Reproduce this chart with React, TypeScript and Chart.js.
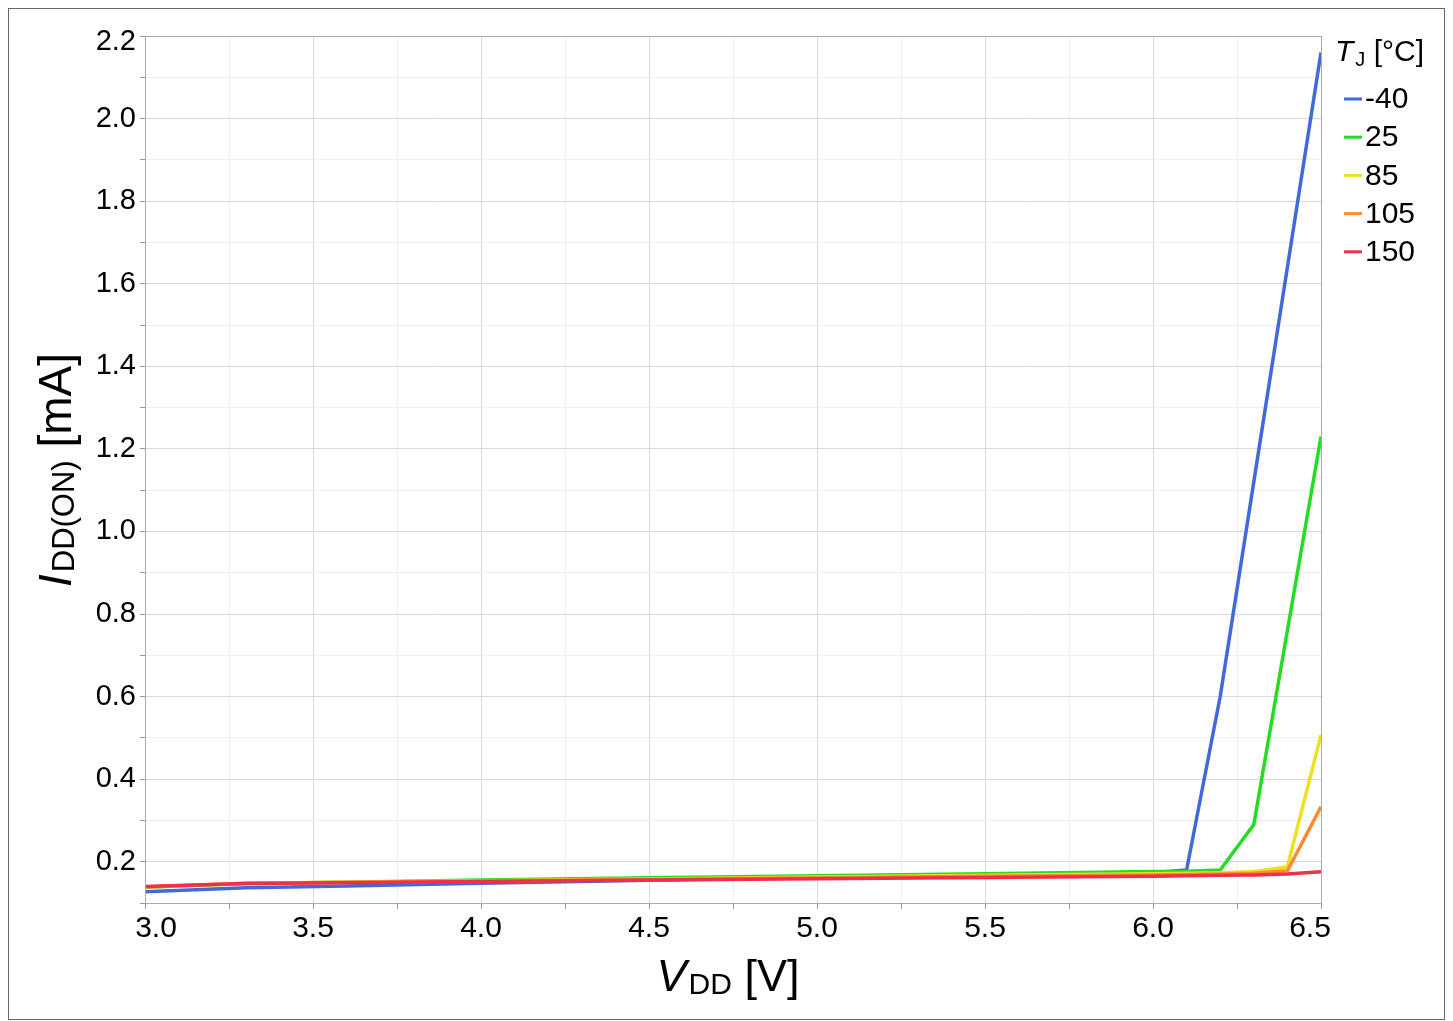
import React, { useEffect, useRef } from "react";
import { Chart, registerables } from "chart.js";

Chart.register(...registerables);

const vdd = [3.0, 3.3, 3.6, 4.0, 4.5, 5.0, 5.5, 6.0, 6.1, 6.2, 6.3, 6.4, 6.5];
const seriesLabels = ["-40", "25", "85", "105", "150"];
const iM40 = [0.127, 0.137, 0.141, 0.148, 0.155, 0.161, 0.167, 0.173, 0.18, 0.6, 1.12, 1.64, 2.16];
const i25 = [0.138, 0.147, 0.150, 0.156, 0.161, 0.166, 0.171, 0.176, 0.177, 0.18, 0.29, 0.76, 1.23];
const i85 = [0.139, 0.148, 0.150, 0.154, 0.158, 0.163, 0.167, 0.171, 0.172, 0.173, 0.176, 0.188, 0.507];
const i105 = [0.139, 0.148, 0.150, 0.153, 0.157, 0.161, 0.165, 0.168, 0.169, 0.170, 0.172, 0.178, 0.333];
const i150 = [0.140, 0.147, 0.149, 0.152, 0.156, 0.159, 0.162, 0.165, 0.166, 0.167, 0.168, 0.170, 0.176];
const seriesValues = [iM40, i25, i85, i105, i150];
const seriesColors = ["#4169dc", "#22dd22", "#eee020", "#ff8a30", "#f0304a"];

const xTitleMain = "V";
const xTitleSub = "DD";
const xTitleUnit = " [V]";
const yTitleMain = "I";
const yTitleSub = "DD(ON)";
const yTitleUnit = " [mA]";
const legendTitleMain = "T";
const legendTitleSub = "J";
const legendTitleUnit = " [°C]";

const X_MIN = 3.0;
const X_MAX = 6.5;
const Y_MIN = 0.1;
const Y_MAX = 2.2;

const FONT = "Arial, 'Liberation Sans', sans-serif";

const overlayPlugin = {
  id: "overlay",
  afterDraw(chart: any) {
    const ctx = chart.ctx as CanvasRenderingContext2D;
    const a = chart.chartArea;
    const xs = chart.scales.x;
    const ys = chart.scales.y;
    ctx.save();
    // plot border
    ctx.strokeStyle = "#aaaaaa";
    ctx.lineWidth = 1;
    ctx.strokeRect(a.left + 0.5, a.top + 0.5, a.right - a.left, a.bottom - a.top);

    ctx.fillStyle = "#000";

    // edge tick labels, pulled inside like the original
    ctx.font = `30px ${FONT}`;
    ctx.textBaseline = "middle";
    ctx.textAlign = "center";
    const xLabY = a.bottom + 6 + 2 + 18;
    ctx.fillText(X_MIN.toFixed(1), xs.getPixelForValue(X_MIN) + 11, xLabY);
    ctx.fillText(X_MAX.toFixed(1), xs.getPixelForValue(X_MAX) - 11, xLabY);
    ctx.font = `29px ${FONT}`;
    ctx.textAlign = "right";
    ctx.fillText(Y_MAX.toFixed(1), a.left - 9, ys.getPixelForValue(Y_MAX) + 6);

    ctx.textBaseline = "alphabetic";
    ctx.textAlign = "left";

    const drawSub = (x: number, y: number, main: string, sub: string, unit: string, big: number, small: number, subDrop: number, center: boolean) => {
      ctx.font = `italic ${big}px ${FONT}`;
      const w1 = ctx.measureText(main).width;
      ctx.font = `${small}px ${FONT}`;
      const w2 = ctx.measureText(sub).width;
      ctx.font = `${big}px ${FONT}`;
      const w3 = ctx.measureText(unit).width;
      let sx = center ? x - (w1 + w2 + w3 + 2) / 2 : x;
      ctx.font = `italic ${big}px ${FONT}`;
      ctx.fillText(main, sx, y);
      sx += w1 + 2;
      ctx.font = `${small}px ${FONT}`;
      ctx.fillText(sub, sx, y + subDrop);
      sx += w2;
      ctx.font = `${big}px ${FONT}`;
      ctx.fillText(unit, sx, y);
    };

    // x title
    drawSub(719, 982, xTitleMain, xTitleSub, xTitleUnit, 45, 30, 3, true);

    // y title
    ctx.save();
    ctx.translate(45, 461);
    ctx.rotate(-Math.PI / 2);
    drawSub(0, 17, yTitleMain, yTitleSub, yTitleUnit, 46, 31, 3, true);
    ctx.restore();

    // legend
    drawSub(1326, 52, legendTitleMain, legendTitleSub, legendTitleUnit, 30, 20, 5, false);
    ctx.font = `30px ${FONT}`;
    ctx.textBaseline = "middle";
    seriesLabels.forEach((lab, i) => {
      const y = 90 + i * 38.2;
      ctx.strokeStyle = seriesColors[i];
      ctx.lineWidth = 3;
      ctx.beginPath();
      ctx.moveTo(1335, y);
      ctx.lineTo(1353, y);
      ctx.stroke();
      ctx.fillStyle = "#000";
      ctx.fillText(lab, 1356, y + 1);
    });
    ctx.restore();
  },
};

export default function App() {
  const ref = useRef<HTMLCanvasElement | null>(null);
  useEffect(() => {
    if (!ref.current) return;
    const datasets = seriesLabels.map((lab, i) => ({
      label: lab,
      data: vdd.map((x, j) => ({ x, y: seriesValues[i][j] })),
      borderColor: seriesColors[i],
      backgroundColor: seriesColors[i],
      borderWidth: 3.5,
      pointRadius: 0,
      tension: 0,
      fill: false,
      order: seriesLabels.length - i,
    }));
    const isMajorY = (v: number) => Math.round(v * 10) % 2 === 0;
    const isMajorX = (v: number) => Math.round(v * 100) % 50 === 0;
    const chart = new Chart(ref.current, {
      type: "line",
      data: { datasets },
      plugins: [overlayPlugin],
      options: {
        animation: false,
        responsive: false,
        maintainAspectRatio: false,
        layout: { padding: { top: 27, right: 123, left: 0, bottom: 0 } },
        plugins: { legend: { display: false }, tooltip: { enabled: false } },
        scales: {
          x: {
            type: "linear",
            min: X_MIN,
            max: X_MAX,
            afterFit: (s: any) => { s.height = 116; },
            ticks: {
              stepSize: 0.25,
              autoSkip: false,
              maxRotation: 0,
              padding: 2,
              color: "#000",
              font: { size: 30, family: FONT },
              callback: (v: any) => {
                const n = Number(v);
                if (Math.abs(n - X_MIN) < 1e-6 || Math.abs(n - X_MAX) < 1e-6) return "";
                return isMajorX(n) ? n.toFixed(1) : "";
              },
            },
            grid: {
              color: (c: any) => (isMajorX(c.tick.value) ? "#d8d8d8" : "#efefef"),
              tickColor: "#999",
              tickLength: 6,
              lineWidth: 1,
            },
            border: { color: "#aaa" },
          },
          y: {
            type: "linear",
            min: Y_MIN,
            max: Y_MAX,
            afterFit: (s: any) => { s.width = 136; },
            ticks: {
              stepSize: 0.1,
              autoSkip: false,
              padding: 4,
              color: "#000",
              font: { size: 29, family: FONT },
              callback: (v: any) => {
                const n = Number(v);
                if (Math.abs(n - Y_MAX) < 1e-6) return "";
                return isMajorY(n) && n > 0.15 ? n.toFixed(1) : "";
              },
            },
            grid: {
              color: (c: any) => (isMajorY(c.tick.value) ? "#d8d8d8" : "#efefef"),
              tickColor: "#999",
              tickLength: 5,
              lineWidth: 1,
            },
            border: { color: "#aaa" },
          },
        },
      },
    } as any);
    return () => chart.destroy();
  }, []);
  return (
    <div style={{ width: 1437, height: 1012, border: "1px solid #666", boxSizing: "border-box", background: "#fff" }}>
      <canvas ref={ref} width={1435} height={1010} style={{ display: "block", width: 1435, height: 1010 }} />
    </div>
  );
}
